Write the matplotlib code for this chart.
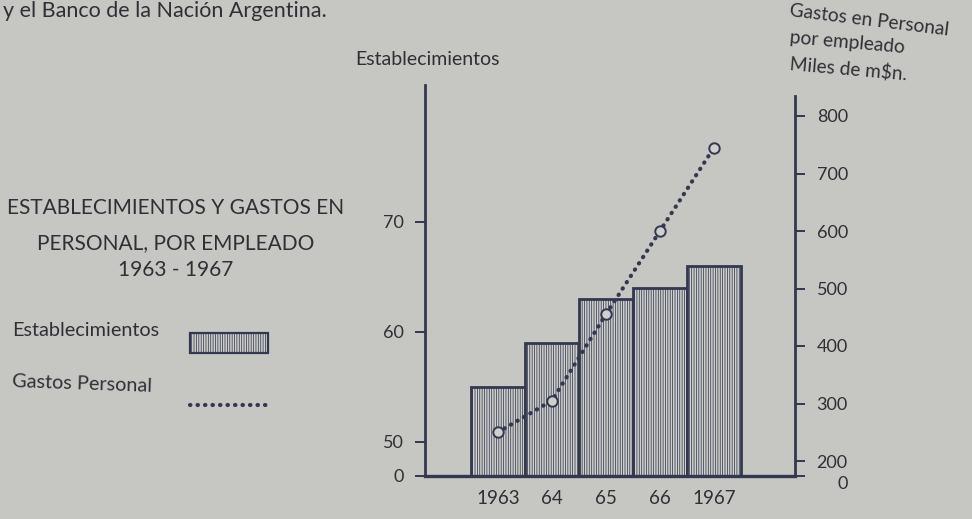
import numpy as np
import matplotlib
matplotlib.use("Agg")
import matplotlib.pyplot as plt
from matplotlib.patches import Patch
from matplotlib.lines import Line2D

# ---- data ----
years = [1963, 1964, 1965, 1966, 1967]
year_labels = ["1963", "64", "65", "66", "1967"]
establecimientos = [55, 59, 63, 64, 66]
gastos_personal = [250, 305, 455, 600, 745]
left_ticks = [0, 50, 60, 70]
right_ticks = [0, 200, 300, 400, 500, 600, 700, 800]
legend_labels = ["Establecimientos", "Gastos Personal"]

PAPER = "#c6c7c3"
BARFACE = "#cfd0cc"
INK = "#33384e"
TEXT = "#2f3036"

plt.rcParams["font.family"] = ["Lato", "DejaVu Sans"]
plt.rcParams["hatch.color"] = INK
plt.rcParams["hatch.linewidth"] = 0.55

W, H = 972, 519
fig = plt.figure(figsize=(W / 100, H / 100), dpi=100)
fig.patch.set_facecolor(PAPER)

base_px = 476
top_px = 85
ax = fig.add_axes([425 / W, 1 - base_px / H, 370 / W, (base_px - top_px) / H])
ax.set_facecolor("none")

# broken scales (pixels above baseline)
def lf(v):
    v = np.asarray(v, dtype=float)
    return np.where(v < 50, v * 34 / 50, 34 + (v - 50) * 11)

def li(p):
    p = np.asarray(p, dtype=float)
    return np.where(p < 34, p * 50 / 34, 50 + (p - 34) / 11)

R0 = 15  # pixels between 0 and 200 on the broken right axis

def rf(v):
    v = np.asarray(v, dtype=float)
    return np.where(v < 200, v * R0 / 200, R0 + (v - 200) * 0.575)

def ri(p):
    p = np.asarray(p, dtype=float)
    return np.where(p < R0, p * 200 / R0, 200 + (p - R0) / 0.575)

span = base_px - top_px
ax.set_yscale("function", functions=(lf, li))
ax.set_ylim(0, float(li(span)))
ax.set_xlim(1961.65, 1968.5)

ax.bar(years, establecimientos, width=1.0, color=BARFACE, edgecolor=INK,
       linewidth=2.0, hatch="|||||||", zorder=2, label=legend_labels[0])

ax2 = ax.twinx()
ax2.set_facecolor("none")
ax2.set_yscale("function", functions=(rf, ri))
ax2.set_ylim(0, float(ri(span)))
ax2.plot(years, gastos_personal, color=INK, linestyle=(0, (0.1, 1.7)),
         linewidth=3.0, dash_capstyle="round", marker="o", markersize=7.5,
         markerfacecolor=BARFACE, markeredgecolor=INK, markeredgewidth=1.4,
         zorder=3, label=legend_labels[1])

# spines
for a in (ax, ax2):
    a.spines["top"].set_visible(False)
ax.spines["right"].set_visible(False)
ax2.spines["left"].set_visible(False)
ax2.spines["bottom"].set_visible(False)
ax.spines["left"].set_linewidth(2.0)
ax.spines["left"].set_color(INK)
ax.spines["bottom"].set_linewidth(2.4)
ax.spines["bottom"].set_color(INK)
ax2.spines["right"].set_linewidth(2.0)
ax2.spines["right"].set_color(INK)
ax2.spines["right"].set_bounds(0, 835)

ax.set_yticks(left_ticks)
ax.set_yticklabels([str(t) for t in left_ticks])
ax.tick_params(axis="y", direction="out", length=7, width=1.4, color=INK,
               labelsize=13, labelcolor=TEXT, pad=8)
ax.yaxis.set_minor_locator(matplotlib.ticker.NullLocator())
ax2.set_yticks(right_ticks)
ax2.set_yticklabels([str(t) for t in right_ticks])
ax2.yaxis.set_minor_locator(matplotlib.ticker.NullLocator())
ax2.tick_params(axis="y", direction="out", length=7, width=1.4, color=INK,
                labelsize=13, labelcolor=TEXT, pad=31)
for lab in ax2.get_yticklabels():
    lab.set_horizontalalignment("right")
# the "0" of the broken right axis sits just below the baseline
ax2.get_yticklabels()[0].set_verticalalignment("top")

ax.set_xticks(years)
ax.set_xticklabels(year_labels)
ax.tick_params(axis="x", length=0, pad=10, labelsize=13.5, labelcolor=TEXT)

# axis titles
fig.text(427 / W, 1 - 60 / H, "Establecimientos", ha="center", va="center",
         fontsize=14, color=TEXT)
fig.text(789 / W, 1 - 20 / H, "Gastos en Personal", ha="left", va="center",
         fontsize=13.8, color=TEXT, rotation=-7)
fig.text(789 / W, 1 - 43 / H, "por empleado", ha="left", va="center",
         fontsize=13.8, color=TEXT, rotation=-5)
fig.text(789 / W, 1 - 69 / H, "Miles de m\\$n.", ha="left", va="center",
         fontsize=13.8, color=TEXT, rotation=-5)

# top line of text (continuation from the page above)
fig.text(3 / W, 1 - 17 / H, "y el Banco de la Nación Argentina.", ha="left",
         va="baseline", fontsize=15.5, color=TEXT)

# title block
fig.text(176 / W, 1 - 208 / H, "ESTABLECIMIENTOS Y GASTOS EN", ha="center",
         va="center", fontsize=15, color=TEXT)
fig.text(176 / W, 1 - 243 / H, "PERSONAL, POR EMPLEADO", ha="center",
         va="center", fontsize=15, color=TEXT)
fig.text(176 / W, 1 - 270 / H, "1963 - 1967", ha="center", va="center",
         fontsize=15, color=TEXT)

# legend: labels on the left, keys in a column on the right
fig.text(12 / W, 1 - 331 / H, legend_labels[0], ha="left", va="center",
         fontsize=14.3, color=TEXT)
fig.text(12 / W, 1 - 384 / H, legend_labels[1], ha="left", va="center",
         fontsize=14.3, color=TEXT, rotation=-2)
handles = [Patch(facecolor=BARFACE, edgecolor=INK, hatch="|||||||", linewidth=1.6),
           Line2D([], [], color=INK, linestyle=(0, (0.1, 1.7)), linewidth=3.0,
                  dash_capstyle="round")]
leg = fig.legend(handles, ["", ""], loc="upper left",
                 bbox_to_anchor=(190 / W, 1 - 333 / H), borderpad=0,
                 borderaxespad=0, frameon=False, fontsize=14,
                 handlelength=78 / 19.44, handleheight=24 / 19.44,
                 handletextpad=0, labelspacing=2.25)

fig.savefig("out.png", dpi=100, facecolor=PAPER)
